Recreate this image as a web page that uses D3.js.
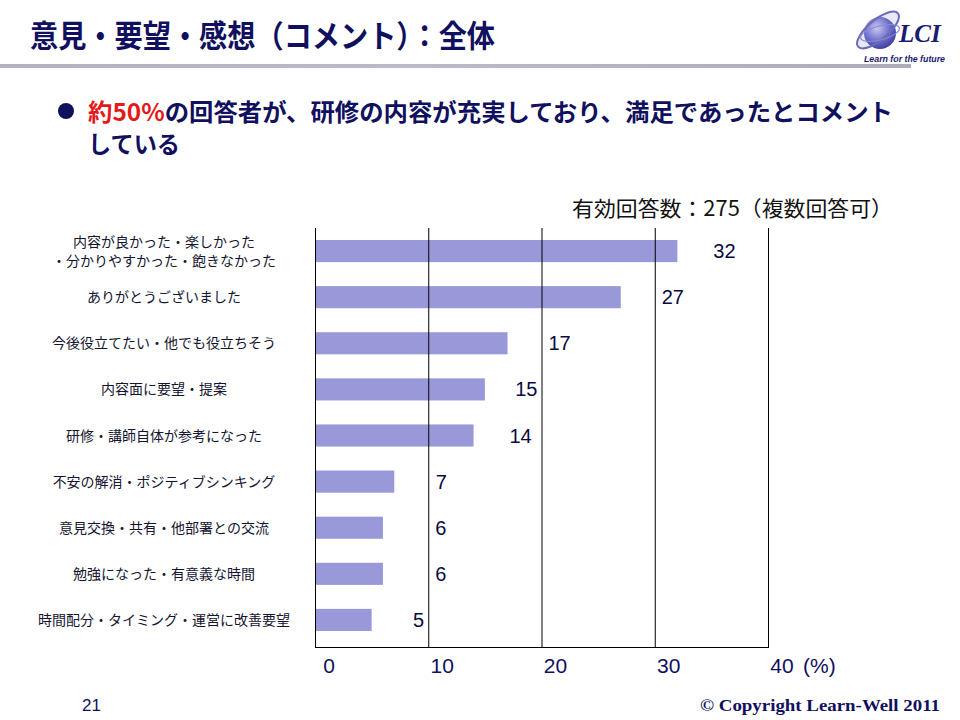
<!DOCTYPE html>
<html><head><meta charset="utf-8">
<script src="https://cdn.jsdelivr.net/npm/d3@7"></script>
<style>body{margin:0;background:#fff}svg{display:block}</style>
</head><body><svg id="c" width="960" height="720"></svg>
<script>
const categories = [
  ["内容が良かった・楽しかった","・分かりやすかった・飽きなかった"],
  ["ありがとうございました"],
  ["今後役立てたい・他でも役立ちそう"],
  ["内容面に要望・提案"],
  ["研修・講師自体が参考になった"],
  ["不安の解消・ポジティブシンキング"],
  ["意見交換・共有・他部署との交流"],
  ["勉強になった・有意義な時間"],
  ["時間配分・タイミング・運営に改善要望"]
];
const values = [32, 27, 17, 15, 14, 7, 6, 6, 5];
const xTicks = [0, 10, 20, 30, 40];
const tickLabels = ["0", "10", "20", "30", "40"];
const unitLabel = "(%)";
const titleText = "意見・要望・感想（コメント）：全体";
const bulletRed = "約50%";
const bulletLine1 = "の回答者が、研修の内容が充実しており、満足であったとコメント";
const bulletLine2 = "している";
const noteText = "有効回答数：275（複数回答可）";
const pageNo = "21";
const copyright = "© Copyright Learn-Well 2011";

(function(){
const svg = d3.select("#c");
const navy = "#10105e";
const jp = "'Noto Sans CJK JP', sans-serif";
const ar = "'Liberation Sans', Arial, sans-serif";

// header
const defs = svg.append("defs");
const lg = defs.append("linearGradient").attr("id","hl").attr("x1","0").attr("x2","1");
lg.append("stop").attr("offset","0").attr("stop-color","#b4b2c2");
lg.append("stop").attr("offset","0.45").attr("stop-color","#bcbac8");
lg.append("stop").attr("offset","1").attr("stop-color","#aeacbc");
svg.append("rect").attr("x",0).attr("y",64).attr("width",911).attr("height",4).attr("fill","url(#hl)");

svg.append("text").attr("x",30).attr("y",47).attr("font-family",jp).attr("font-weight","bold")
  .attr("font-size",31).attr("fill",navy).attr("textLength",465).attr("lengthAdjust","spacingAndGlyphs")
  .text(titleText);

// logo
const rg = defs.append("radialGradient").attr("id","sph").attr("cx","0.4").attr("cy","0.35").attr("r","0.7");
rg.append("stop").attr("offset","0").attr("stop-color","#c8c8f0");
rg.append("stop").attr("offset","0.6").attr("stop-color","#6a6ac8");
rg.append("stop").attr("offset","1").attr("stop-color","#3a3a98");
const logo = svg.append("g");
logo.append("ellipse").attr("cx",878).attr("cy",30).attr("rx",26).attr("ry",10)
  .attr("transform","rotate(-40 878 30)").attr("fill","#d8d8f0").attr("opacity",0.6);
logo.append("circle").attr("cx",880).attr("cy",33).attr("r",16).attr("fill","url(#sph)");
logo.append("ellipse").attr("cx",878).attr("cy",30).attr("rx",26).attr("ry",10)
  .attr("transform","rotate(-40 878 30)").attr("fill","none").attr("stroke","#6a6ab8").attr("stroke-width",2);
logo.append("ellipse").attr("cx",880).attr("cy",33).attr("rx",20).attr("ry",7)
  .attr("transform","rotate(-15 880 33)").attr("fill","none").attr("stroke","#8a8ad0").attr("stroke-width",1.2);
logo.append("text").attr("x",899).attr("y",42).attr("font-family","'Liberation Serif', serif")
  .attr("font-style","italic").attr("font-weight","bold").attr("font-size",25).attr("fill","#1a1a70").text("LCI");
logo.append("text").attr("x",864).attr("y",62).attr("font-family",ar).attr("font-style","italic")
  .attr("font-weight","bold").attr("font-size",8.5).attr("fill","#1a1a70")
  .attr("textLength",81).attr("lengthAdjust","spacingAndGlyphs").text("Learn for the future");

// bullet
svg.append("circle").attr("cx",66).attr("cy",111).attr("r",8).attr("fill",navy);
const bt = svg.append("text").attr("x",88).attr("y",121).attr("font-family",jp).attr("font-weight","bold")
  .attr("font-size",24).attr("textLength",805).attr("lengthAdjust","spacingAndGlyphs");
bt.append("tspan").attr("fill","#e41a1a").text(bulletRed);
bt.append("tspan").attr("fill",navy).text(bulletLine1);
svg.append("text").attr("x",88).attr("y",153).attr("font-family",jp).attr("font-weight","bold")
  .attr("font-size",24).attr("fill",navy).attr("textLength",92).attr("lengthAdjust","spacingAndGlyphs").text(bulletLine2);

svg.append("text").attr("x",572).attr("y",216).attr("font-family",jp).attr("font-size",21)
  .attr("fill","#111").attr("textLength",321).attr("lengthAdjust","spacingAndGlyphs").text(noteText);

// chart
const x = d3.scaleLinear().domain([0,40]).range([315,768]);
const keys = categories.map((c,i)=>i);
const y = d3.scaleBand().domain(keys).range([228,643]).paddingInner(0.52).paddingOuter(0.26);
const yTop = 228, yBottom = 647;

const g = svg.append("g");
g.selectAll("rect.bar").data(values).join("rect").attr("class","bar")
  .attr("x",x(0)).attr("y",(d,i)=>y(i)).attr("width",d=>x(d)-x(0)).attr("height",y.bandwidth())
  .attr("fill","#9999da");

g.selectAll("line.grid").data(xTicks).join("line").attr("class","grid")
  .attr("x1",d=>x(d)+0.5).attr("x2",d=>x(d)+0.5).attr("y1",yTop).attr("y2",yBottom)
  .attr("stroke","#000").attr("stroke-width",1);
g.append("line").attr("x1",x(0)).attr("x2",x(40)+1).attr("y1",yBottom+0.5).attr("y2",yBottom+0.5)
  .attr("stroke","#000");

g.selectAll("text.tick").data(xTicks).join("text").attr("class","tick")
  .attr("x",d=>x(d)+14).attr("y",673).attr("text-anchor","middle")
  .attr("font-family",ar).attr("font-size",21).attr("fill",navy).text((d,i)=>tickLabels[i]);
g.append("text").attr("x",x(40)+35).attr("y",673).attr("font-family",ar).attr("font-size",21)
  .attr("fill",navy).text(unitLabel);

// value labels: centred a fixed distance past the bar end, nudged off gridlines
g.selectAll("text.val").data(values).join("text").attr("class","val")
  .attr("y",(d,i)=>y(i)+y.bandwidth()/2+7).attr("text-anchor","start")
  .attr("font-family",ar).attr("font-size",20).attr("fill","#0a0a40").text(d=>d)
  .each(function(d){
    const w = this.getComputedTextLength();
    let s = x(d) + 47 - w/2;
    xTicks.forEach(t=>{
      const gx = x(t);
      if (gx >= s-4 && gx <= s+w+4) {
        const left = (gx-4) - (s+w), right = (gx+7) - s;
        s += Math.abs(left) < Math.abs(right) ? left : right;
      }
    });
    d3.select(this).attr("x", s);
  });

const cl = g.selectAll("text.cat").data(categories).join("text").attr("class","cat")
  .attr("x",164).attr("text-anchor","middle").attr("font-family",jp).attr("font-size",14).attr("fill","#141430");
cl.each(function(d,i){
  const c = y(i)+y.bandwidth()/2;
  const n = d.length;
  d3.select(this).selectAll("tspan").data(d).join("tspan").attr("x",164)
    .attr("y",(t,j)=>c + 5 + (j-(n-1)/2)*19).text(t=>t);
});

// footer
svg.append("text").attr("x",82).attr("y",711).attr("font-family",ar).attr("font-size",17)
  .attr("fill",navy).text(pageNo);
svg.append("text").attr("x",700).attr("y",711).attr("font-family","'Liberation Serif', serif")
  .attr("font-weight","bold").attr("font-size",17).attr("fill",navy)
  .attr("textLength",240).attr("lengthAdjust","spacingAndGlyphs").text(copyright);
})();
</script></body></html>
